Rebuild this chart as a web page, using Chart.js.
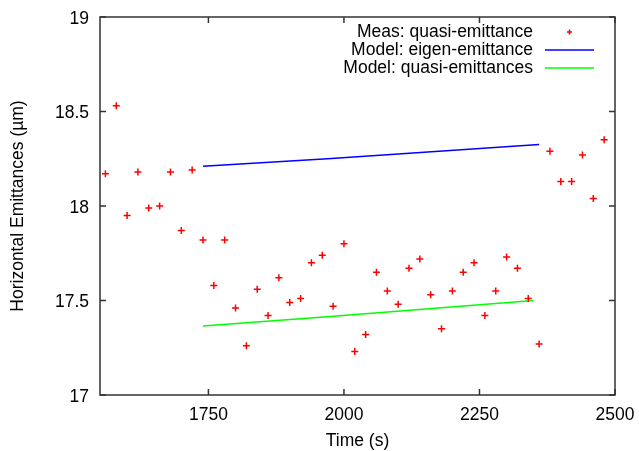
<!DOCTYPE html>
<html>
<head>
<meta charset="utf-8">
<script src="https://cdn.jsdelivr.net/npm/chart.js@4"></script>
<style>
  html, body { margin: 0; padding: 0; background: #fff; }
</style>
</head>
<body>
<canvas id="chart" width="639" height="451"></canvas>
<script>
// Measured quasi-emittance, one point every 20 s
const measTime = [
  1560, 1580, 1600, 1620, 1640, 1660, 1680, 1700, 1720, 1740,
  1760, 1780, 1800, 1820, 1840, 1860, 1880, 1900, 1920, 1940,
  1960, 1980, 2000, 2020, 2040, 2060, 2080, 2100, 2120, 2140,
  2160, 2180, 2200, 2220, 2240, 2260, 2280, 2300, 2320, 2340,
  2360, 2380, 2400, 2420, 2440, 2460, 2480
];
const measEmit = [
  18.17, 18.53, 17.95, 18.18, 17.99, 18.00, 18.18, 17.87, 18.19, 17.82,
  17.58, 17.82, 17.46, 17.26, 17.56, 17.42, 17.62, 17.49, 17.51, 17.70,
  17.74, 17.47, 17.80, 17.23, 17.32, 17.65, 17.55, 17.48, 17.67, 17.72,
  17.53, 17.35, 17.55, 17.65, 17.70, 17.42, 17.55, 17.73, 17.67, 17.51,
  17.27, 18.29, 18.13, 18.13, 18.27, 18.04, 18.35
];

// Model curves
const eigenTime = [1740, 1970, 2360];
const eigenEmit = [18.21, 18.25, 18.325];
const quasiTime = [1740, 1975, 2350];
const quasiEmit = [17.365, 17.415, 17.50];

// Axis ticks
const xTicks = [1750, 2000, 2250, 2500];
const yTicks = [17, 17.5, 18, 18.5, 19];

const toXY = (xs, ys) => xs.map((x, i) => ({ x: x, y: ys[i] }));

Chart.defaults.font.family = "'Liberation Sans', Arial, sans-serif";
Chart.defaults.font.size = 17.5;
Chart.defaults.color = "#000";

// Gnuplot style frame with inward ticks on all four sides
const framePlugin = {
  id: "frame",
  afterDatasetsDraw(chart) {
    const { ctx, chartArea: a, scales } = chart;
    const tl = 6;
    ctx.save();
    ctx.strokeStyle = "#333";
    ctx.lineWidth = 1.5;
    ctx.beginPath();
    xTicks.forEach((v) => {
      const px = scales.x.getPixelForValue(v);
      ctx.moveTo(px, a.bottom);
      ctx.lineTo(px, a.bottom - tl);
      ctx.moveTo(px, a.top);
      ctx.lineTo(px, a.top + tl);
    });
    yTicks.forEach((v) => {
      const py = scales.y.getPixelForValue(v);
      ctx.moveTo(a.left, py);
      ctx.lineTo(a.left + tl, py);
      ctx.moveTo(a.right, py);
      ctx.lineTo(a.right - tl, py);
    });
    ctx.stroke();
    ctx.strokeRect(a.left, a.top, a.right - a.left, a.bottom - a.top);
    ctx.restore();
  },
};

// Legend inside the plot: text right aligned, sample on the right
const keyPlugin = {
  id: "key",
  afterDatasetsDraw(chart) {
    const { ctx } = chart;
    const textRight = 533;
    const sampleL = 545;
    const sampleR = 594;
    const rows = [32, 50, 68];
    ctx.save();
    ctx.font = "17.5px 'Liberation Sans', Arial, sans-serif";
    ctx.textAlign = "right";
    ctx.textBaseline = "middle";
    chart.data.datasets.forEach((ds, i) => {
      const y = rows[i];
      ctx.fillStyle = "#000";
      ctx.fillText(ds.label, textRight, y);
      ctx.strokeStyle = ds.borderColor;
      ctx.lineWidth = ds.borderWidth;
      ctx.beginPath();
      if (ds.showLine === false) {
        const cx = (sampleL + sampleR) / 2;
        ctx.moveTo(cx - 2.5, y);
        ctx.lineTo(cx + 2.5, y);
        ctx.moveTo(cx, y - 2.5);
        ctx.lineTo(cx, y + 2.5);
      } else {
        ctx.moveTo(sampleL, y);
        ctx.lineTo(sampleR, y);
      }
      ctx.stroke();
    });
    ctx.restore();
  },
};

new Chart(document.getElementById("chart"), {
  type: "scatter",
  data: {
    datasets: [
      {
        label: "Meas: quasi-emittance",
        data: toXY(measTime, measEmit),
        showLine: false,
        pointStyle: "cross",
        pointRadius: 3.5,
        borderColor: "#ff0000",
        borderWidth: 1.5,
      },
      {
        label: "Model: eigen-emittance",
        data: toXY(eigenTime, eigenEmit),
        showLine: true,
        pointRadius: 0,
        borderColor: "#0000ff",
        borderWidth: 1.5,
      },
      {
        label: "Model: quasi-emittances",
        data: toXY(quasiTime, quasiEmit),
        showLine: true,
        pointRadius: 0,
        borderColor: "#00ff00",
        borderWidth: 1.5,
      },
    ],
  },
  options: {
    responsive: false,
    animation: false,
    layout: { padding: { left: 0, top: 17, right: 24, bottom: 0 } },
    plugins: {
      legend: { display: false },
      tooltip: { enabled: false },
    },
    scales: {
      x: {
        type: "linear",
        min: 1550,
        max: 2500,
        afterBuildTicks: (s) => { s.ticks = xTicks.map((v) => ({ value: v })); },
        afterFit: (s) => {
          s.height = 56;
          // keep the frame edge fixed, the last label may overhang
          s.paddingLeft = 0;
          s.paddingRight = 0;
        },
        ticks: { padding: 10, maxRotation: 0, callback: (v) => String(v) },
        grid: { display: false, drawTicks: false },
        border: { display: false },
        title: { display: true, text: "Time (s)", padding: { top: 0, bottom: -1 } },
      },
      y: {
        min: 17,
        max: 19,
        afterBuildTicks: (s) => { s.ticks = yTicks.map((v) => ({ value: v })); },
        afterFit: (s) => {
          s.width = 100;
          s.paddingTop = 0;
          s.paddingBottom = 0;
        },
        ticks: { padding: 11, labelOffset: 2, callback: (v) => String(v) },
        grid: { display: false, drawTicks: false },
        border: { display: false },
        title: { display: true, text: "Horizontal Emittances (µm)", padding: { top: 8, bottom: 0 } },
      },
    },
  },
  plugins: [framePlugin, keyPlugin],
});
</script>
</body>
</html>
